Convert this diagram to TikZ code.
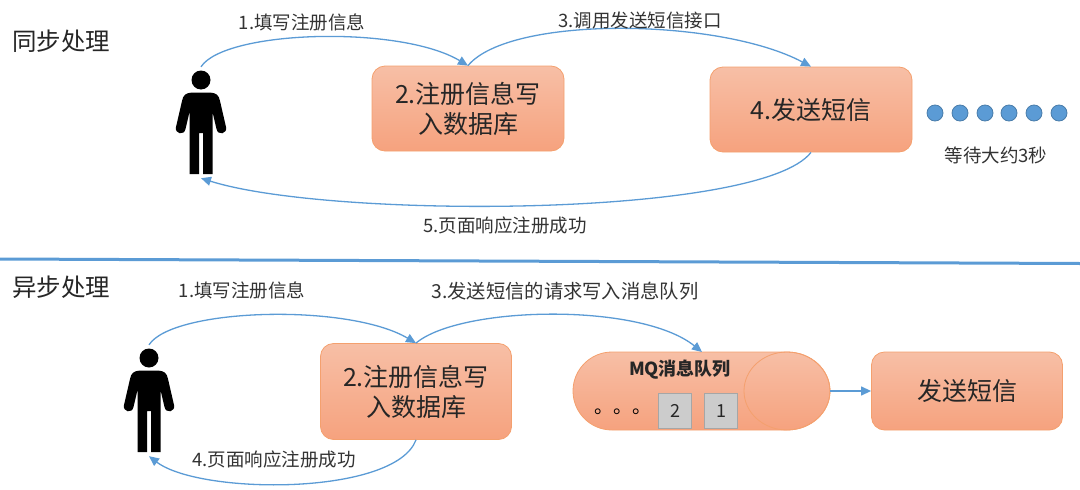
\documentclass[tikz,border=0pt]{standalone}
\usepackage{fontspec}
\setmainfont{Noto Sans CJK SC}
\definecolor{conn}{HTML}{5B9BD5}
\definecolor{boxtop}{HTML}{F7BFA6}
\definecolor{boxbot}{HTML}{F6A27E}
\definecolor{boxedge}{HTML}{F4A06E}
\usetikzlibrary{arrows.meta,shapes.geometric}
\tikzset{
  x=1pt,y=-1pt,
  flow/.style={draw=conn,line width=1.3pt,-{Triangle[length=10pt,width=9pt]}},
  orange box/.style={draw=boxedge,line width=.8pt,rounded corners=13pt,top color=boxtop,bottom color=boxbot,inner sep=0pt,align=center,font=\fontsize{25}{30}\selectfont,text=black!85},
  lab/.style={inner sep=0pt,font=\fontsize{18.5}{22}\selectfont,text=black!80},
  head/.style={inner sep=0pt,font=\fontsize{24.5}{29}\selectfont,text=black!85},
  personbox/.style={inner sep=0pt,minimum width=50pt,minimum height=111pt},
  waitdot/.style={circle,draw=conn!80!black,fill=conn,line width=.8pt,minimum size=16pt,inner sep=0pt},
  item/.style={draw=black!35,fill=black!20,line width=.8pt,minimum width=33pt,minimum height=35pt,inner sep=0pt,font=\fontsize{18}{22}\selectfont,text=black!85},
  pics/man/.style={code={
    \fill[black] (0,-43) circle (9.5);
    \fill[black] (-9,-30.5) .. controls (-15,-30) and (-18,-28) .. (-19,-22) -- (-25,4) .. controls (-26.5,11) and (-17,13) .. (-15.5,6) -- (-11.5,-11) -- (-11.5,51) -- (-2,51) -- (-2,10) -- (2,10) -- (2,51) -- (11.5,51) -- (11.5,-11) -- (15.5,6) .. controls (17,13) and (26.5,11) .. (25,4) -- (19,-22) .. controls (18,-28) and (15,-30) .. (9,-30.5) -- cycle;
  }}
}
\begin{document}
\begin{tikzpicture}
\useasboundingbox (0,0) rectangle (1080,490);
% top
\node[head,anchor=west] (h1) at (12,41) {同步处理};
\node[personbox] (p1) at (201,122.5) {};
\pic at (201,123) {man};
\node[orange box,minimum width=192pt,minimum height=85pt] (b1) at (468,108.5) {2.注册信息写\\入数据库};
\node[orange box,minimum width=202pt,minimum height=85pt] (b2) at (811,109.5) {4.发送短信};
\draw[flow] (p1.north) .. controls (225,30) and (400,25) .. (b1.north);
\draw[flow] (b1.north) .. controls (510,15) and (720,18) .. (b2.north);
\draw[flow] (b2.south) .. controls (760,218) and (330,219) .. (p1.south);
\node[lab] (l1) at (302,22) {1.填写注册信息};
\node[lab] (l2) at (640,20) {3.调用发送短信接口};
\node[lab] (l3) at (505,225) {5.页面响应注册成功};
\foreach \i/\xx in {1/935,2/960,3/985,4/1009,5/1034,6/1059} \node[waitdot] (d\i) at (\xx,113) {};
\node[lab] (w) at (996,155) {等待大约3秒};
% divider
\coordinate (s1) at (0,259);
\coordinate (s2) at (1080,263.5);
\draw[conn,line width=3pt] (s1) -- (s2);
% bottom
\node[head,anchor=west] (h2) at (12,287) {异步处理};
\node[personbox] (p2) at (149,400.5) {};
\pic at (149,401) {man};
\node[orange box,minimum width=191pt,minimum height=96pt] (b3) at (416,391.5) {2.注册信息写\\入数据库};
\draw[flow] (p2.north) .. controls (173,308) and (348,303) .. (b3.north);
\node[lab] (l4) at (242,290) {1.填写注册信息};
\node[lab,font=\fontsize{19.3}{23}\selectfont] (l5) at (565,291) {3.发送短信的请求写入消息队列};
\node[lab] (l6) at (274,459) {4.页面响应注册成功};
% queue
\path[draw=boxedge,line width=.8pt,top color=boxtop,bottom color=boxbot] (612,352) -- (787,352) arc[start angle=90,end angle=-90,x radius=43pt,y radius=39pt] -- (612,430) arc[start angle=270,end angle=90,x radius=39pt,y radius=39pt] -- cycle;
\node[draw=boxedge,line width=.8pt,ellipse,minimum width=86pt,minimum height=78pt,inner sep=0pt] (q) at (787,391) {};
\coordinate (qw) at (702,352);
\node[inner sep=0pt,font=\bfseries\fontsize{18}{22}\selectfont,text=black!85] (qt) at (680,370) {MQ消息队列};
\node[item] (i2) at (675,411) {2};
\node[item] (i1) at (721,411) {1};
\node[inner sep=0pt,font=\fontsize{19}{22}\selectfont] (dots) at (623,412) {。。。};
\node[orange box,minimum width=191pt,minimum height=78pt] (b4) at (967,391) {发送短信};
\draw[flow] (b3.north) .. controls (460,306) and (640,302) .. (qw);
\draw[flow] (b3.south) .. controls (395,496) and (200,495) .. (p2.south);
\draw[flow] (q.east) -- (b4.west);
\end{tikzpicture}
\end{document}
